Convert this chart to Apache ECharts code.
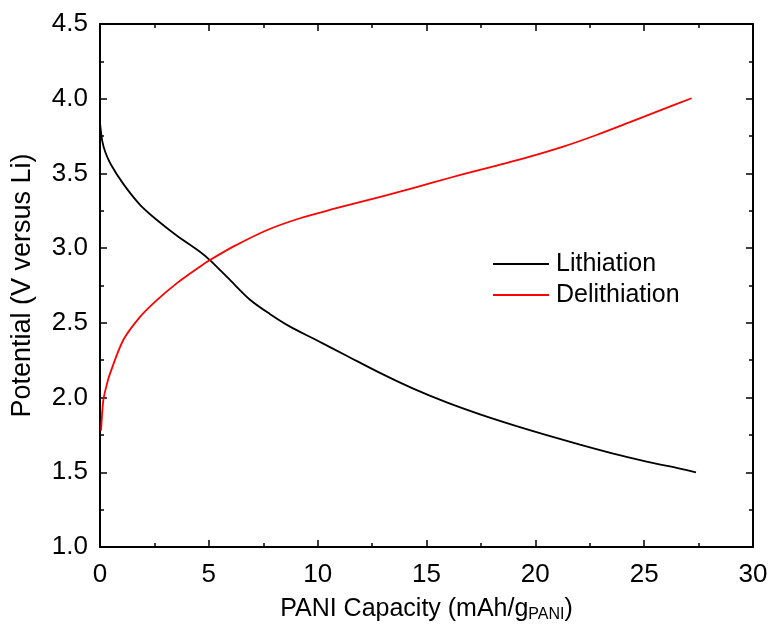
<!DOCTYPE html>
<html>
<head>
<meta charset="utf-8">
<script src="https://cdn.jsdelivr.net/npm/echarts@6/dist/echarts.min.js"></script>
<style>html,body{margin:0;padding:0;background:#fff}#c{width:771px;height:634px}</style>
</head>
<body>
<div id="c"></div>
<script>
var lithX = [0, 0.1, 0.25, 0.5, 1.07, 1.84, 2.6, 3.52, 4.59, 5.05, 5.97, 6.89, 7.8, 8.73, 9.8, 11.33, 12.86, 14.39, 15.93, 17.46, 18.99, 20.52, 22.05, 23.58, 25.11, 26.64, 27.38];
var lithY = [3.84, 3.72, 3.64, 3.56, 3.43, 3.29, 3.19, 3.085, 2.976, 2.92, 2.787, 2.655, 2.56, 2.475, 2.395, 2.28, 2.165, 2.06, 1.968, 1.888, 1.816, 1.749, 1.685, 1.625, 1.572, 1.524, 1.5];
var delithX = [0.05, 0.15, 0.3, 0.46, 1.07, 1.84, 2.6, 3.52, 4.59, 5.05, 6.12, 7.66, 9.19, 10.72, 12.25, 13.78, 15.31, 16.69, 18.22, 19.75, 21.28, 22.81, 24.35, 25.88, 27.18];
var delithY = [1.78, 1.98, 2.08, 2.16, 2.385, 2.54, 2.65, 2.764, 2.876, 2.92, 3.01, 3.12, 3.2, 3.262, 3.32, 3.378, 3.44, 3.495, 3.553, 3.612, 3.679, 3.757, 3.843, 3.93, 4.003];
var seriesNames = ['Lithiation', 'Delithiation'];
var xTitle = 'PANI Capacity (mAh/g{sub|PANI})';
var yTitle = 'Potential (V versus Li)';

function pairs(xs, ys) { return xs.map(function (x, i) { return [x, ys[i]]; }); }

var FONT = '"Liberation Sans", Arial, sans-serif';
function baseAxis(extra) {
  var a = {
    type: 'value',
    axisLine: { show: true, onZero: false, lineStyle: { color: '#000', width: 2 } },
    axisTick: { show: true, inside: true, length: 7, lineStyle: { color: '#000', width: 1.5 } },
    minorTick: { show: true, splitNumber: 2, length: 4, lineStyle: { color: '#000', width: 1.5 } },
    splitLine: { show: false },
    minorSplitLine: { show: false }
  };
  for (var k in extra) a[k] = extra[k];
  return a;
}

var chart = echarts.init(document.getElementById('c'));
chart.setOption({
  animation: false,
  backgroundColor: '#fff',
  grid: { left: 100, top: 24, width: 653, height: 523 },
  legend: {
    orient: 'vertical',
    left: 488,
    top: 246,
    itemWidth: 56,
    itemHeight: 2,
    itemGap: 5,
    icon: 'rect',
    textStyle: { fontFamily: FONT, fontSize: 25, color: '#000', lineHeight: 26, padding: [0, 0, 0, 2] },
    data: seriesNames
  },
  xAxis: [
    baseAxis({
      position: 'bottom', min: 0, max: 30, interval: 5,
      axisLabel: { fontFamily: FONT, fontSize: 26, color: '#000', margin: 15 },
      name: xTitle, nameLocation: 'middle', nameGap: 49,
      nameTextStyle: {
        fontFamily: FONT, fontSize: 25, color: '#000',
        rich: { sub: { fontFamily: FONT, fontSize: 16, color: '#000', padding: [11, 0, 0, 0] } }
      }
    }),
    baseAxis({ position: 'top', min: 0, max: 30, interval: 5, axisLabel: { show: false } })
  ],
  yAxis: [
    baseAxis({
      position: 'left', min: 1, max: 4.5, interval: 0.5,
      axisLabel: { fontFamily: FONT, fontSize: 26, color: '#000', margin: 12, formatter: function (v) { return v.toFixed(1); } },
      name: yTitle, nameLocation: 'middle', nameGap: 64, nameRotate: 90,
      nameTextStyle: { fontFamily: FONT, fontSize: 27, color: '#000' }
    }),
    baseAxis({ position: 'right', min: 1, max: 4.5, interval: 0.5, axisLabel: { show: false } })
  ],
  series: [
    {
      name: seriesNames[0], type: 'line', data: pairs(lithX, lithY), smooth: 0.3,
      showSymbol: false, symbol: 'none', color: '#000', lineStyle: { color: '#000', width: 1.8 }
    },
    {
      name: seriesNames[1], type: 'line', data: pairs(delithX, delithY), smooth: 0.3,
      showSymbol: false, symbol: 'none', color: '#ff0000', lineStyle: { color: '#ff0000', width: 1.8 }
    }
  ]
});
</script>
</body>
</html>
